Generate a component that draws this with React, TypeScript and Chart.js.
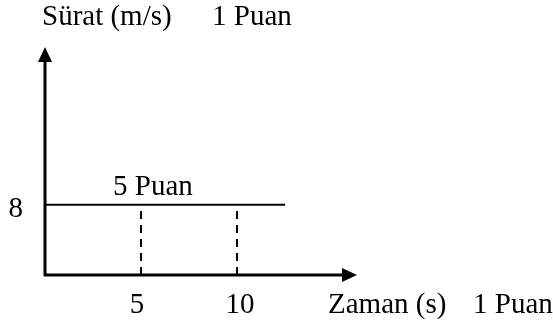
import React, { useEffect, useRef } from 'react';
import { Chart, registerables } from 'chart.js';

Chart.register(...registerables);

// Data
const timePoints = [0, 12.5];
const speedValues = [8, 8];
const timeTicks = [5, 10];
const speedTicks = [8];
const xAxisMax = 16.25;
const yAxisMax = 26;
const yTitle = 'Sürat (m/s)';
const xTitle = 'Zaman (s)';
const scoreTop = '1 Puan';
const scoreLine = '5 Puan';
const scoreBottom = '1 Puan';

const FONT_FAMILY = '"Liberation Serif", "DejaVu Serif", "Noto Serif", serif';
const TARGET_TITLE_WIDTH = 130;

let fontSize = 29;

const drawPlugin = {
  id: 'physicsAxes',
  beforeDatasetsDraw(chart: any) {
    const ctx = chart.ctx;
    const xs = chart.scales.x;
    const ys = chart.scales.y;
    const x0 = xs.getPixelForValue(0);
    const y0 = ys.getPixelForValue(0);
    const xTip = xs.getPixelForValue(xAxisMax);
    const yTip = ys.getPixelForValue(yAxisMax);
    ctx.save();
    ctx.strokeStyle = '#000';
    ctx.fillStyle = '#000';
    ctx.lineWidth = 3;
    ctx.beginPath();
    ctx.moveTo(x0, y0 + 1);
    ctx.lineTo(x0, yTip + 12);
    ctx.stroke();
    ctx.beginPath();
    ctx.moveTo(x0, yTip);
    ctx.lineTo(x0 - 7, yTip + 15);
    ctx.lineTo(x0 + 7, yTip + 15);
    ctx.closePath();
    ctx.fill();
    ctx.beginPath();
    ctx.moveTo(x0 - 1, y0);
    ctx.lineTo(xTip - 12, y0);
    ctx.stroke();
    ctx.beginPath();
    ctx.moveTo(xTip, y0);
    ctx.lineTo(xTip - 15, y0 - 7);
    ctx.lineTo(xTip - 15, y0 + 7);
    ctx.closePath();
    ctx.fill();
    ctx.restore();
  },
  afterDraw(chart: any) {
    const ctx = chart.ctx;
    const xs = chart.scales.x;
    const ys = chart.scales.y;
    const x0 = xs.getPixelForValue(0);
    const y0 = ys.getPixelForValue(0);
    ctx.save();
    ctx.font = '100px ' + FONT_FAMILY;
    const w = ctx.measureText(yTitle).width;
    if (w > 0) fontSize = Math.min(29, (100 * TARGET_TITLE_WIDTH) / w);
    ctx.fillStyle = '#000';
    ctx.font = fontSize.toFixed(2) + 'px ' + FONT_FAMILY;
    ctx.textBaseline = 'alphabetic';
    ctx.textAlign = 'left';
    ctx.fillText(yTitle, x0 - 3, 25);
    ctx.fillText(scoreTop, 212, 25);
    const yLine = ys.getPixelForValue(speedValues[0]);
    ctx.fillText(scoreLine, 113, yLine - 10);
    ctx.fillText(xTitle, 328, y0 + 38);
    ctx.fillText(scoreBottom, 473, y0 + 38);
    ctx.textAlign = 'right';
    speedTicks.forEach((v) => {
      ctx.fillText(String(v), x0 - 22, ys.getPixelForValue(v) + 12);
    });
    ctx.textAlign = 'center';
    timeTicks.forEach((v, i) => {
      const off = i === 0 ? -4 : 3;
      ctx.fillText(String(v), xs.getPixelForValue(v) + off, y0 + 38);
    });
    ctx.restore();
  },
};

export default function App() {
  const ref = useRef<HTMLCanvasElement>(null);
  useEffect(() => {
    if (!ref.current) return;
    const dashedSets = timeTicks.map((t) => ({
      data: [
        { x: t, y: 0 },
        { x: t, y: speedValues[0] },
      ],
      borderColor: '#000',
      borderWidth: 2,
      borderDash: [8, 6],
      pointRadius: 0,
      fill: false,
    }));
    const chart = new Chart(ref.current, {
      type: 'line',
      data: {
        datasets: [
          {
            data: timePoints.map((t, i) => ({ x: t, y: speedValues[i] })),
            borderColor: '#000',
            borderWidth: 2,
            pointRadius: 0,
            fill: false,
          },
          ...dashedSets,
        ],
      },
      options: {
        animation: false,
        responsive: false,
        maintainAspectRatio: false,
        layout: { padding: { left: 45, right: 196, top: 47, bottom: 47 } },
        plugins: { legend: { display: false }, tooltip: { enabled: false } },
        scales: {
          x: { type: 'linear', min: 0, max: xAxisMax, display: false },
          y: { type: 'linear', min: 0, max: yAxisMax, display: false },
        },
      },
      plugins: [drawPlugin],
    });
    let alive = true;
    const fontsApi = (document as any).fonts;
    if (fontsApi && fontsApi.ready) {
      fontsApi.ready.then(() => { if (alive) chart.draw(); });
    }
    return () => {
      alive = false;
      chart.destroy();
    };
  }, []);
  return (
    <div style={{ position: 'fixed', left: 0, top: 0, width: 553, height: 322, background: '#fff' }}>
      <canvas ref={ref} width={553} height={322} style={{ width: 553, height: 322, display: 'block' }} />
    </div>
  );
}
